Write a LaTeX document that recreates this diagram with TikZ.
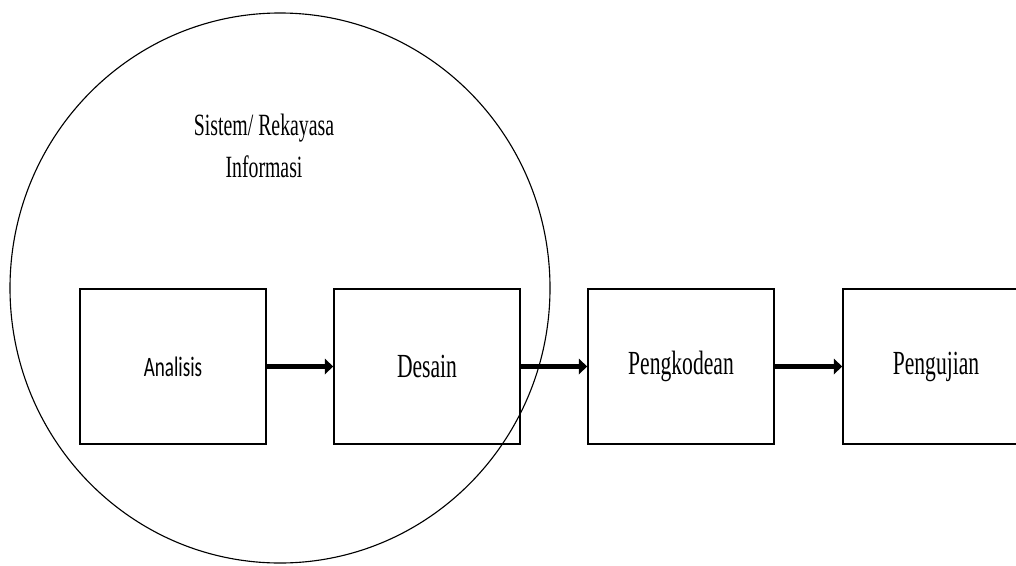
\documentclass[tikz,border=0pt]{standalone}
\usepackage{fontspec}
\setmainfont{Liberation Serif}[FakeStretch=0.64]
\newfontfamily\boxsans{Carlito}[FakeStretch=0.68]
\usetikzlibrary{arrows.meta}

\begin{document}
\begin{tikzpicture}[
  x=0.025cm, y=-0.025cm,
  every node/.style={font=\fontsize{24}{30}\selectfont},
  phase/.style={draw=black, line width=1.1pt, align=center, minimum width=4.65cm, minimum height=3.875cm, inner sep=0pt},
  arrow/.style={-{Triangle[length=6pt, width=11pt]}, line width=3.2pt},
]

\clip (0,0) rectangle (1016,565);
\fill[white] (0,0) rectangle (1016,565);

\draw[line width=0.8pt] (280,288) ellipse [x radius=270, y radius=275];

\node[align=center, font=\fontsize{22}{30}\selectfont] (sri) at (264,146) {Sistem/ Rekayasa\\Informasi};

\node[phase] (analisis) at (173,366.5) {\boxsans\fontsize{20}{24}\selectfont Analisis};
\node[phase] (desain) at (427,366.5) {Desain};
\node[phase] (kode) at (681,366.5) {Pengkodean};
\node[phase] (uji) at (936,366.5) {Pengujian};

\draw[arrow] (analisis.east) -- (desain.west);
\draw[arrow] (desain.east) -- (kode.west);
\draw[arrow] (kode.east) -- (uji.west);

\end{tikzpicture}
\end{document}
